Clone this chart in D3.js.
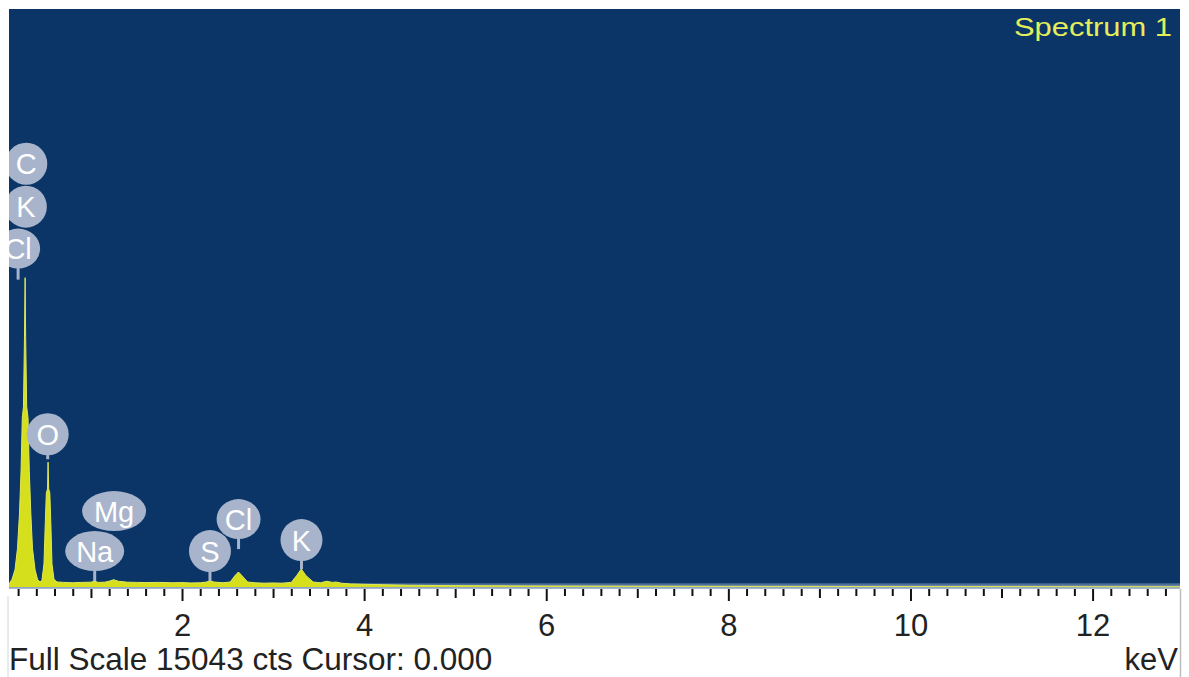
<!DOCTYPE html>
<html>
<head>
<meta charset="utf-8">
<script src="https://cdn.jsdelivr.net/npm/d3@7"></script>
<style>
  html, body { margin: 0; padding: 0; background: #ffffff; }
  svg { display: block; font-family: "Liberation Sans", Arial, sans-serif; }
</style>
</head>
<body>
<svg id="chart" width="1189" height="677"></svg>
<script>
// ---------------- data ----------------
const fullScale = 15043;
const energyDomain = [0.1, 12.96];

const spectrumKeV = [0.10, 0.133, 0.166, 0.193, 0.215, 0.232, 0.246, 0.259, 0.270, 0.277, 0.283, 0.294, 0.309, 0.323, 0.340, 0.358, 0.386, 0.413, 0.44,
  0.462, 0.484, 0.499, 0.510, 0.523, 0.529, 0.536, 0.548, 0.559, 0.572, 0.594, 0.627,
  0.70, 0.80, 0.90, 1.00, 1.04, 1.08, 1.15, 1.20, 1.25, 1.30, 1.40, 1.50, 1.60, 1.75, 1.90, 2.00, 2.10, 2.20, 2.27, 2.31, 2.35, 2.45, 2.53, 2.58, 2.62, 2.66, 2.72, 2.80, 2.90, 3.00, 3.10, 3.20, 3.26, 3.31, 3.36, 3.44, 3.52, 3.59, 3.65, 3.69, 3.75, 3.85, 4.00, 4.20, 4.50, 5.00, 5.50, 6.00, 7.00, 8.00, 9.00, 10.0, 11.0, 12.0, 12.96];
const spectrumCounts = [80, 200, 450, 1000, 1900, 3000, 4400, 4700, 6500, 8050, 6500, 4700, 4400, 3000, 1900, 1000, 450, 200, 130,
  170, 600, 1700, 2450, 2550, 3250, 2550, 2450, 1700, 600, 200, 130,
  120, 110, 120, 125, 150, 120, 125, 150, 190, 150, 125, 120, 115, 120, 110, 115, 105, 110, 130, 165, 130, 110, 130, 290, 390, 290, 130, 110, 100, 105, 100, 120, 300, 470, 300, 130, 110, 150, 120, 130, 100, 80, 70, 60, 45, 35, 30, 25, 20, 16, 14, 12, 10, 8, 6];

const majorTicks = [2, 4, 6, 8, 10, 12];
const tickLabels = ["2", "4", "6", "8", "10", "12"];
const mediumTicks = [1, 3, 5, 7, 9, 11];

const labelNames    = ["C", "K", "Cl", "O", "Mg", "Na", "S", "Cl", "K"];
const labelEnergies = [0.29, 0.285, 0.20, 0.525, 1.254, 1.041, 2.307, 2.621, 3.312];
const labelLevels   = [11016, 9898, 8807, 3975, 1975, 935, 935, 1767, 1221];
const labelStemEnds = [null, null, 8000, 3325, null, 156, 156, 987, 468];

const title = "Spectrum 1";
const footer = "Full Scale 15043 cts Cursor: 0.000";
const unit = "keV";

// ---------------- layout ----------------
const svg = d3.select("#chart");
const pL = 9, pR = 1180, pT = 9, pB = 589;
const x = d3.scaleLinear().domain(energyDomain).range([pL, pR]);
const y = d3.scaleLinear().domain([0, fullScale]).range([587, pT]);

const defs = svg.append("defs");
defs.append("clipPath").attr("id", "plotClip")
  .append("rect").attr("x", pL).attr("y", pT).attr("width", pR - pL).attr("height", pB - pT);

// frame lines outside plot
svg.append("line").attr("x1", 8).attr("x2", 8).attr("y1", 596).attr("y2", 677).attr("stroke", "#d6d6d6").attr("stroke-width", 1);
svg.append("line").attr("x1", 1180.5).attr("x2", 1180.5).attr("y1", 589).attr("y2", 677).attr("stroke", "#bdbdbd").attr("stroke-width", 1.5);

// background
svg.append("rect").attr("x", pL).attr("y", pT).attr("width", pR - pL).attr("height", pB - pT).attr("fill", "#0a3566");

// baseline strip
const grad = defs.append("linearGradient").attr("id", "strip").attr("x1", 0).attr("x2", 0).attr("y1", 0).attr("y2", 1);
grad.append("stop").attr("offset", "0%").attr("stop-color", "#2f5583");
grad.append("stop").attr("offset", "100%").attr("stop-color", "#b2c0d2");
svg.append("rect").attr("x", pL).attr("y", 583).attr("width", pR - pL).attr("height", 6).attr("fill", "url(#strip)");

const plot = svg.append("g").attr("clip-path", "url(#plotClip)");

// spectrum
const spectrum = spectrumKeV.map((e, i) => ({ e, c: spectrumCounts[i] }));
const area = d3.area().x(d => x(d.e)).y0(y(0)).y1(d => y(d.c)).curve(d3.curveLinear);
plot.append("path").datum(spectrum).attr("d", area).attr("fill", "#d5df1c");
const line = d3.line().x(d => x(d.e)).y(d => y(d.c));
plot.append("path").datum(spectrum).attr("d", line).attr("fill", "none").attr("stroke", "#e0e85a").attr("stroke-width", 1);

// peak labels
const labels = labelNames.map((n, i) => ({ n, e: labelEnergies[i], lv: labelLevels[i], stem: labelStemEnds[i] }));
const lg = plot.append("g");
labels.forEach(d => {
  const cx = x(d.e), cy = y(d.lv);
  const rx = d.n.length > 1 ? (d.n === "Cl" ? 22 : (d.n === "Mg" ? 32 : 29.5)) : 21;
  const ry = d.n.length > 1 ? 20 : 21;
  const g = lg.append("g");
  if (d.stem !== null) {
    g.append("line").attr("x1", cx).attr("x2", cx).attr("y1", cy + ry - 2).attr("y2", y(d.stem))
      .attr("stroke", "#a7b4cb").attr("stroke-width", 3);
  }
  g.append("ellipse").attr("cx", cx).attr("cy", cy).attr("rx", rx).attr("ry", ry).attr("fill", "#a7b4cb");
  g.append("text").attr("x", cx).attr("y", cy).attr("dy", "0.36em").attr("text-anchor", "middle")
    .attr("fill", "#ffffff").attr("font-size", 29).text(d.n);
});

// title
svg.append("text").attr("x", 1172).attr("y", 36).attr("text-anchor", "end")
  .attr("font-size", 25).attr("fill", "#e4ee5c").attr("textLength", 158).attr("lengthAdjust", "spacingAndGlyphs")
  .text(title);

// axes
const minorTicks = d3.range(1, 65).map(i => i * 0.2).filter(v => Math.abs(v - Math.round(v)) > 1e-6 && v < 12.96);
const axMinor = svg.append("g").attr("transform", `translate(0,${pB})`)
  .call(d3.axisBottom(x).tickValues(minorTicks).tickSize(7).tickFormat(""));
const axMed = svg.append("g").attr("transform", `translate(0,${pB})`)
  .call(d3.axisBottom(x).tickValues(mediumTicks).tickSize(9).tickFormat(""));
const axMajor = svg.append("g").attr("transform", `translate(0,${pB})`)
  .call(d3.axisBottom(x).tickValues(majorTicks).tickSize(12).tickPadding(13)
    .tickFormat((d, i) => tickLabels[i]));
[axMinor, axMed, axMajor].forEach(a => {
  a.select(".domain").remove();
  a.selectAll(".tick line").attr("stroke", "#111").attr("stroke-width", 2);
});
axMajor.selectAll(".tick text").attr("font-size", 31).attr("fill", "#222")
  .attr("font-family", "'Liberation Sans', Arial, sans-serif");

// footer texts
svg.append("text").attr("x", 9).attr("y", 670).attr("font-size", 31.5).attr("fill", "#222").text(footer);
svg.append("text").attr("x", 1178).attr("y", 670).attr("text-anchor", "end").attr("font-size", 31).attr("fill", "#222").text(unit);
</script>
</body>
</html>
